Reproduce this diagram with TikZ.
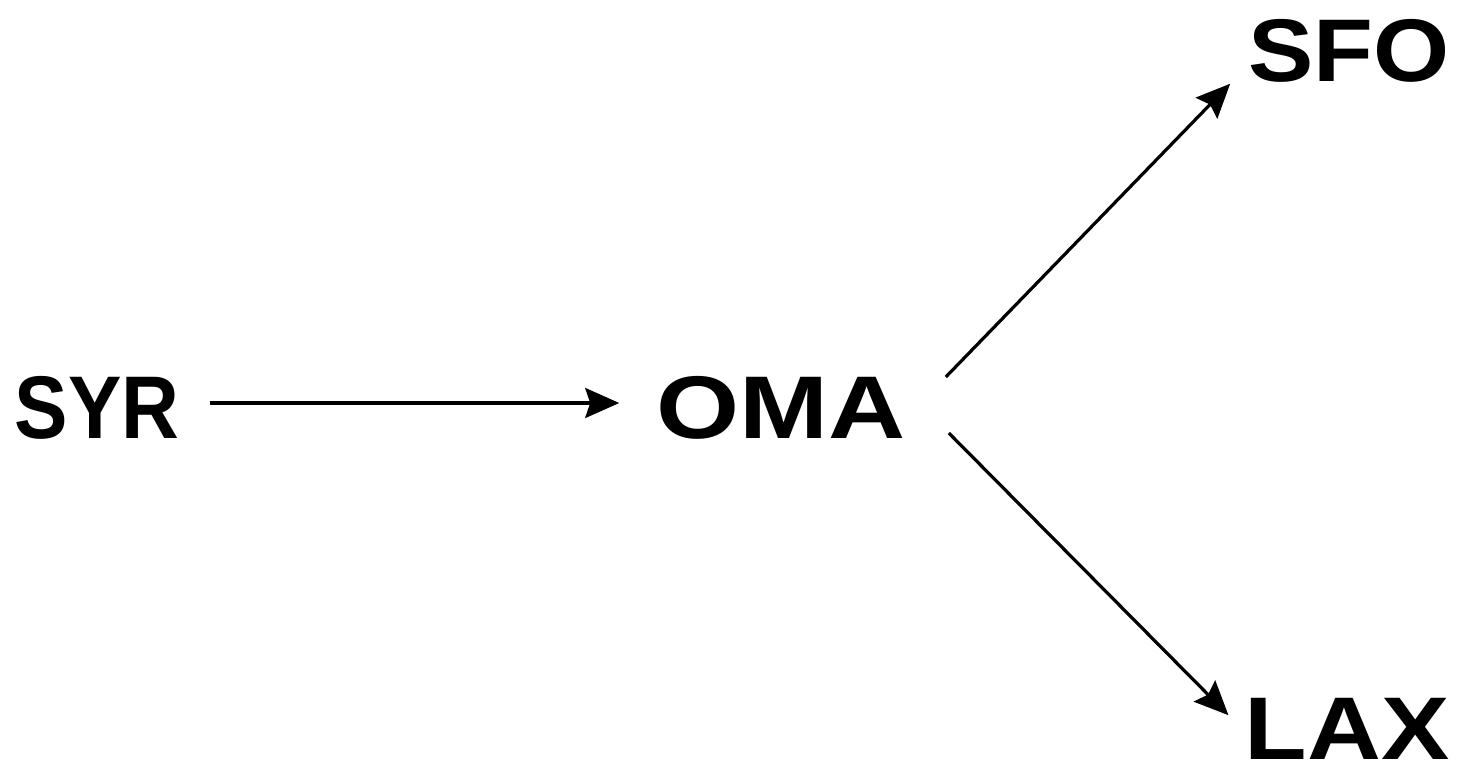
\documentclass[tikz,border=0pt]{standalone}
\usepackage{fontspec}
\setmainfont{Liberation Sans}
\usetikzlibrary{arrows.meta}
\begin{document}
\begin{tikzpicture}[x=1pt,y=-1pt,
  lbl/.style={inner sep=0pt, font=\fontsize{89}{95}\selectfont\bfseries},
  arr/.style={line width=3.2pt, -{Stealth[length=34pt,width=30pt,inset=5pt,fill=black]}}]
\useasboundingbox (0,0) rectangle (1463,776);
\node[lbl] (syr) at (97,408) {\scalebox{0.9}[1]{SYR}};
\node[lbl] (oma) at (781,408) {\scalebox{1.2}[1]{OMA}};
\node[lbl] (sfo) at (1349,51) {\scalebox{1.1}[1]{SFO}};
\node[lbl] (lax) at (1347,729) {\scalebox{1.15}[1]{LAX}};
\draw[arr] ([xshift=30pt,yshift=5pt]syr.east) -- ([xshift=-37pt,yshift=5pt]oma.west);
\draw[arr] ([xshift=40pt,yshift=31pt]oma.east) -- ([xshift=-18pt,yshift=-1pt]sfo.south west);
\draw[arr] ([xshift=43pt,yshift=-25pt]oma.east) -- ([xshift=-16pt,yshift=-17pt]lax.north west);
\end{tikzpicture}
\end{document}
